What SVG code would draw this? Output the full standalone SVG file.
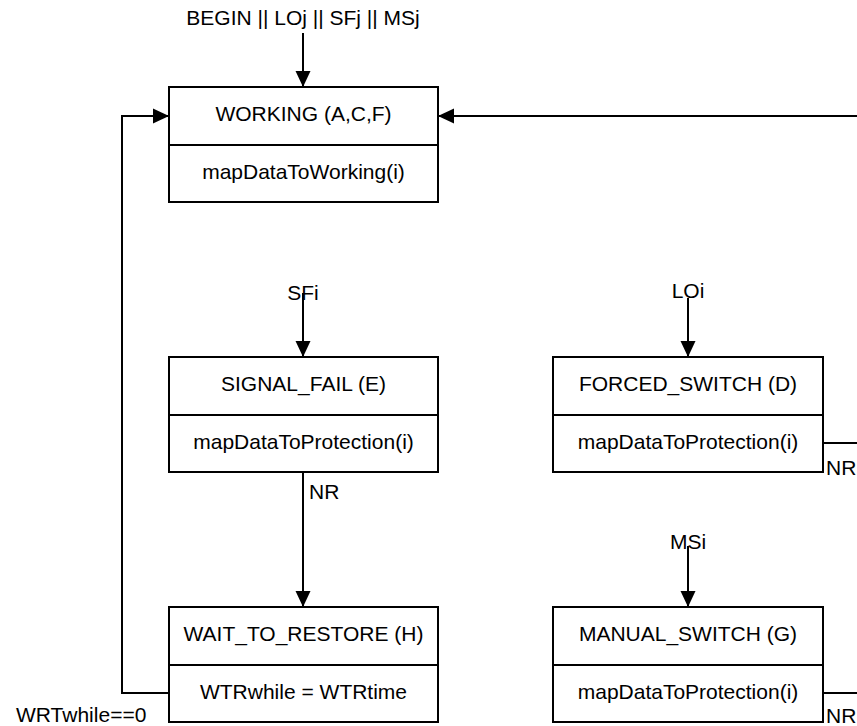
<svg xmlns="http://www.w3.org/2000/svg" width="857" height="726" viewBox="0 0 857 726">
<style>
  .box { fill: #fff; stroke: #000; stroke-width: 2; }
  .div { stroke: #000; stroke-width: 2; }
  .t { font-family: "Liberation Sans", Arial, sans-serif; font-size: 21px; fill: #000; }
  .c { text-anchor: middle; }
  .edge { fill: none; stroke: #000; stroke-width: 2; }
</style>
<defs>
  <marker id="arr" markerWidth="16" markerHeight="16" viewBox="0 0 16 16" refX="16" refY="8" orient="auto" markerUnits="userSpaceOnUse">
    <path d="M0,0.5 L16,8 L0,15.5 Z" fill="#000"/>
  </marker>
</defs>
<rect width="857" height="726" fill="#fff"/>

<g id="connectors">
  <line class="edge" x1="303" y1="33" x2="303" y2="87" marker-end="url(#arr)"/>
  <line class="edge" x1="857" y1="116" x2="438" y2="116" marker-end="url(#arr)"/>
  <polyline class="edge" points="169,693 122,693 122,116 169,116" marker-end="url(#arr)"/>
  <line class="edge" x1="303" y1="293" x2="303" y2="357" marker-end="url(#arr)"/>
  <line class="edge" x1="688" y1="298" x2="688" y2="357" marker-end="url(#arr)"/>
  <line class="edge" x1="688" y1="546" x2="688" y2="607" marker-end="url(#arr)"/>
  <line class="edge" x1="303" y1="472" x2="303" y2="607" marker-end="url(#arr)"/>
  <line class="edge" x1="823" y1="443" x2="857" y2="443"/>
  <line class="edge" x1="823" y1="693" x2="857" y2="693"/>
  <text class="t c" x="303" y="25">BEGIN || LOj || SFj || MSj</text>
  <text class="t c" x="303" y="300">SFi</text>
  <text class="t c" x="688" y="298">LOi</text>
  <text class="t c" x="688" y="549">MSi</text>
  <text class="t" x="309" y="499">NR</text>
  <text class="t" x="826" y="475">NR</text>
  <text class="t" x="826" y="723">NR</text>
  <text class="t" x="16" y="722">WRTwhile==0</text>
</g>

<g id="working">
  <rect class="box" x="169" y="87" width="269" height="115"/>
  <line class="div" x1="169" y1="145" x2="438" y2="145"/>
  <text class="t c" x="303.5" y="121">WORKING (A,C,F)</text>
  <text class="t c" x="303.5" y="179">mapDataToWorking(i)</text>
</g>

<g id="signal_fail">
  <rect class="box" x="169" y="357" width="269" height="115"/>
  <line class="div" x1="169" y1="415" x2="438" y2="415"/>
  <text class="t c" x="303.5" y="391">SIGNAL_FAIL (E)</text>
  <text class="t c" x="303.5" y="449">mapDataToProtection(i)</text>
</g>

<g id="forced_switch">
  <rect class="box" x="553" y="357" width="270" height="115"/>
  <line class="div" x1="553" y1="415" x2="823" y2="415"/>
  <text class="t c" x="688" y="391">FORCED_SWITCH (D)</text>
  <text class="t c" x="688" y="449">mapDataToProtection(i)</text>
</g>

<g id="wait_to_restore">
  <rect class="box" x="169" y="607" width="269" height="115"/>
  <line class="div" x1="169" y1="665" x2="438" y2="665"/>
  <text class="t c" x="303.5" y="641">WAIT_TO_RESTORE (H)</text>
  <text class="t c" x="303.5" y="699">WTRwhile = WTRtime</text>
</g>

<g id="manual_switch">
  <rect class="box" x="553" y="607" width="270" height="115"/>
  <line class="div" x1="553" y1="665" x2="823" y2="665"/>
  <text class="t c" x="688" y="641">MANUAL_SWITCH (G)</text>
  <text class="t c" x="688" y="699">mapDataToProtection(i)</text>
</g>
</svg>
